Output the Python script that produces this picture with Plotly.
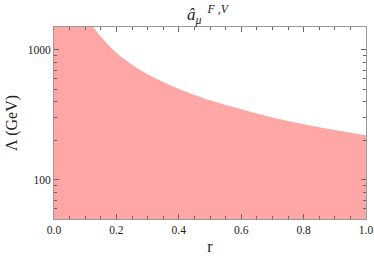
import plotly.graph_objects as go

# Data
r_vals = [0.0, 0.05, 0.10, 0.12, 0.15, 0.20, 0.25, 0.30, 0.35, 0.40, 0.45, 0.50,
          0.60, 0.70, 0.80, 0.90, 1.00]
lambda_vals = [6000, 3300, 1800, 1560, 1270, 950, 770, 650, 565, 500, 450, 410,
               350, 302, 268, 242, 220]

x_ticks = [0.0, 0.2, 0.4, 0.6, 0.8, 1.0]
x_ticklabels = ["0.0", "0.2", "0.4", "0.6", "0.8", "1.0"]
y_ticks = [100, 1000]
y_ticklabels = ["100", "1000"]

fill_color = "#FFA6A6"
serif = "Liberation Serif"

fig = go.Figure()
fig.add_trace(go.Scatter(
    x=r_vals, y=lambda_vals, mode="lines", fill="tozeroy",
    fillcolor=fill_color, line=dict(width=0, color=fill_color, shape="spline",
                                    smoothing=1.0),
    hoverinfo="skip", showlegend=False,
))

axis_common = dict(
    showline=True, linecolor="#999999", linewidth=1, mirror="allticks",
    ticks="inside", tickcolor="#666666", showgrid=False, zeroline=False,
    layer="above traces", automargin=False,
    tickfont=dict(family=serif, size=11.5, color="#222222"),
)

fig.update_layout(
    width=374, height=262,
    margin=dict(l=54, r=8, t=27, b=43),
    paper_bgcolor="white", plot_bgcolor="white",
    title=dict(
        text="<i>â</i><sub><i>μ</i></sub><sup>  <i>F</i> ,<i>V</i></sup>",
        x=0.555, xanchor="center", y=0.945, yanchor="middle",
        font=dict(family=serif, size=17, color="#222222"),
    ),
    xaxis=dict(
        range=[0, 1], tickvals=x_ticks, ticktext=x_ticklabels, ticklen=5,
        minor=dict(dtick=0.05, ticks="inside", ticklen=3, tickcolor="#666666"),
        title=dict(text="r", font=dict(family=serif, size=16, color="#222222"),
                   standoff=6),
        **axis_common,
    ),
    yaxis=dict(
        type="log", range=[1.699, 3.176], tickvals=y_ticks, ticktext=y_ticklabels,
        ticklen=5,
        minor=dict(tickvals=[50, 60, 70, 80, 90, 200, 300, 400, 500, 600, 700, 800, 900],
                   ticks="inside", ticklen=3, tickcolor="#666666"),
        title=dict(text="Λ (GeV)", font=dict(family=serif, size=16, color="#222222"),
                   standoff=6),
        **axis_common,
    ),
)

fig.write_html("out.html",
               config={"displayModeBar": False},
               post_script="document.body.style.margin='0';document.body.style.overflow='hidden';")
